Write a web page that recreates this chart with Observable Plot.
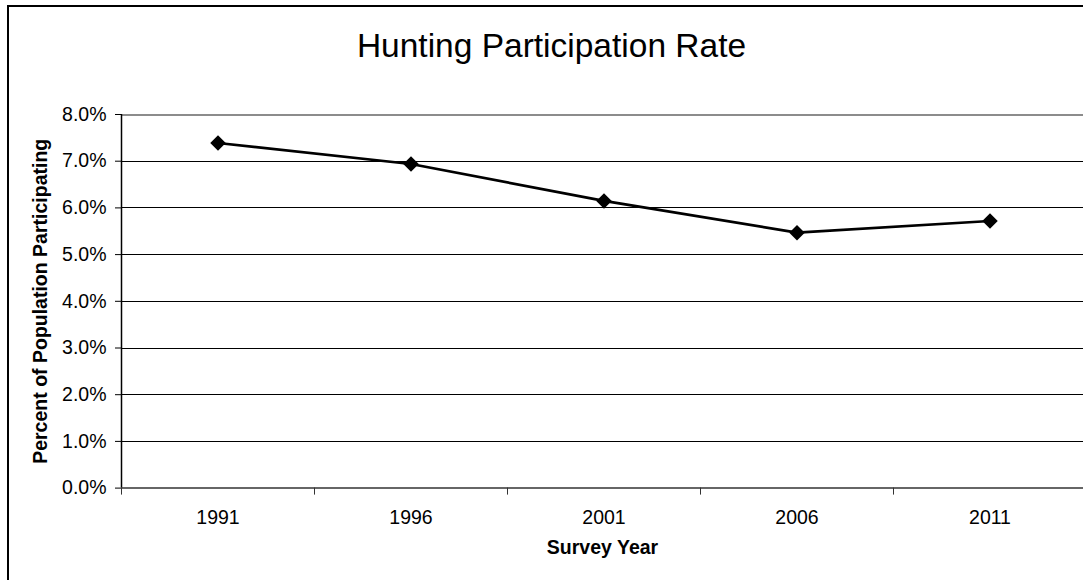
<!DOCTYPE html>
<html><head><meta charset="utf-8">
<script src="https://cdn.jsdelivr.net/npm/d3@7"></script>
<script src="https://cdn.jsdelivr.net/npm/@observablehq/plot@0.6"></script>
<style>
html,body{margin:0;padding:0;background:#fff;overflow:hidden}
#wrap{position:relative;width:1083px;height:580px;overflow:hidden;font-family:"Liberation Sans",Arial,sans-serif}
#frame{position:absolute;left:7px;top:5px;width:1300px;height:800px;border:2px solid #000;box-sizing:border-box}
#title{position:absolute;left:0;width:1103px;top:28.6px;text-align:center;font-size:33.5px;line-height:33.5px;color:#000}
#chart{position:absolute;left:0;top:0}
</style></head><body>
<div id="wrap"><div id="frame"></div><div id="title"></div><div id="chart"></div></div>
<script>
const titleText = "Hunting Participation Rate";
const xTitle = "Survey Year";
const yTitle = "Percent of Population Participating";
const years = ["1991", "1996", "2001", "2006", "2011"];
const rates = [7.39, 6.94, 6.15, 5.47, 5.72];
const yTicks = [0, 1, 2, 3, 4, 5, 6, 7, 8];

document.getElementById("title").textContent = titleText;

const data = years.map((y, i) => ({year: y, pos: i + 0.5, rate: rates[i]}));
const boundaries = d3.range(years.length + 1);
const font = "'Liberation Sans', Arial, sans-serif";

const chart = Plot.plot({
  width: 1083, height: 580,
  marginLeft: 121, marginRight: 0, marginTop: 114, marginBottom: 92.4,
  style: {fontFamily: font, fontSize: "19.5px", color: "#000", background: "transparent"},
  x: {type: "linear", domain: [0, years.length], range: [121, 1086]},
  y: {domain: [0, 8], range: [487.6, 114]},
  marks: [
    Plot.ruleY(yTicks.filter(d => d > 0 && d < 8), {stroke: "#000", strokeWidth: 1, shapeRendering: "crispEdges"}),
    Plot.ruleY([8], {stroke: "#8c8c8c", strokeWidth: 2, shapeRendering: "crispEdges"}),
    Plot.ruleY([0], {stroke: "#333", strokeWidth: 1.5}),
    Plot.ruleX([0], {stroke: "#000", strokeWidth: 1.5}),
    Plot.axisY({ticks: yTicks, tickFormat: d => d.toFixed(1) + "%", tickSize: 6, tickPadding: 9, label: null, stroke: "#000", strokeOpacity: 1, fontSize: 19.5}),
    Plot.axisX({ticks: boundaries, tickFormat: () => "", tickSize: 7, label: null, stroke: "#333", strokeOpacity: 1}),
    Plot.axisX({ticks: data.map(d => d.pos), tickFormat: (d, i) => years[i], tickSize: 0, tickPadding: 22, label: null, fontSize: 19.5}),
    Plot.line(data, {x: "pos", y: "rate", stroke: "#000", strokeWidth: 2.7}),
    Plot.dot(data, {x: "pos", y: "rate", symbol: "diamond2", r: 7, fill: "#000", stroke: "none"}),
    Plot.text([yTitle], {frameAnchor: "left", rotate: -90, dx: -81, textAnchor: "middle", lineAnchor: "middle", fontWeight: "bold", fontSize: 19.5, fill: "#000"}),
    Plot.text([xTitle], {frameAnchor: "bottom", dy: 60, textAnchor: "middle", lineAnchor: "middle", fontWeight: "bold", fontSize: 19.5, fill: "#000"})
  ]
});
document.getElementById("chart").appendChild(chart);
</script>
</body></html>
